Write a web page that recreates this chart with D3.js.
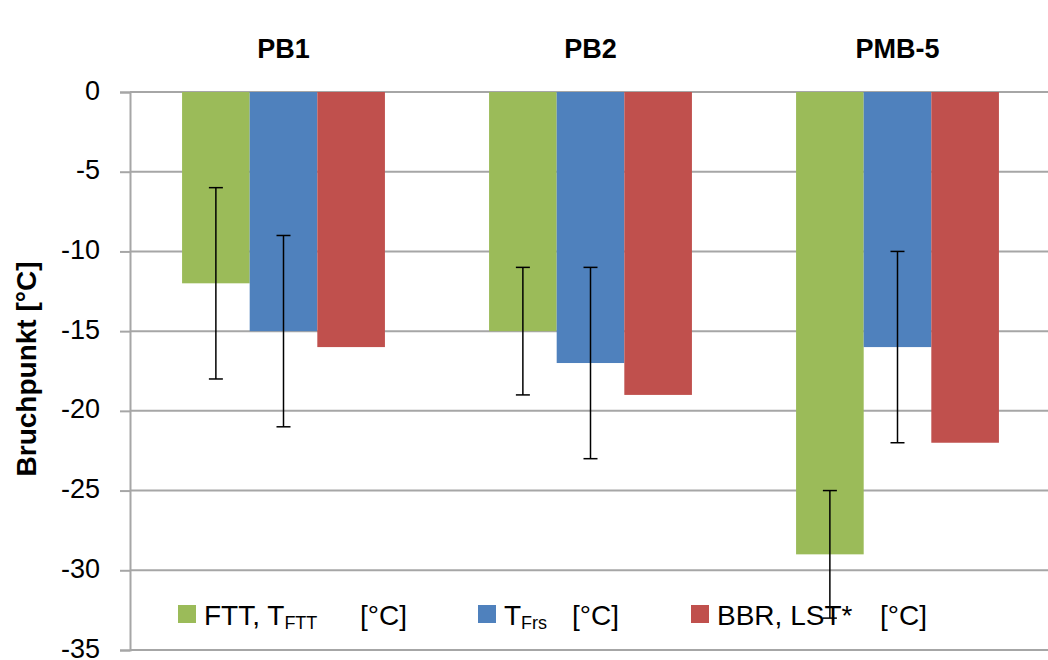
<!DOCTYPE html>
<html>
<head>
<meta charset="utf-8">
<script src="https://cdn.jsdelivr.net/npm/d3@7"></script>
<style>
  body { margin: 0; background: #fff; }
  svg { display: block; font-family: "Liberation Sans", Arial, sans-serif; }
  text { white-space: pre; }
</style>
</head>
<body>
<svg id="chart"></svg>
<script>
// data
const categories = ["PB1", "PB2", "PMB-5"];
const seriesKeys = ["ftt", "frs", "bbr"];
const fttValues = [-12, -15, -29];
const frsValues = [-15, -17, -16];
const bbrValues = [-16, -19, -22];
const fttErrors = [6, 4, 4];
const frsErrors = [6, 6, 6];
const bbrErrors = [null, null, null];
const yTicks = [0, -5, -10, -15, -20, -25, -30, -35];
const legendMain = ["FTT, T", "T", "BBR, LST*"];
const legendSub = ["FTT", "Frs", ""];
const legendUnit = ["[°C]", "[°C]", "[°C]"];
const yTitle = "Bruchpunkt [°C]";

const colors = { ftt: "#9BBB59", frs: "#4F81BD", bbr: "#C0504D" };

const width = 1048;
const height = 660;
const plotLeft = 130;
const plotTop = 92;
const plotBottom = 650;

const svg = d3.select("#chart")
    .attr("width", width)
    .attr("height", height);

// scales
const scX = d3.scaleBand()
    .domain(categories)
    .range([plotLeft, plotLeft + 3 * 307]);

const scInner = d3.scaleBand()
    .domain(seriesKeys)
    .range([0, scX.bandwidth()])
    .paddingOuter(0.77);

const scY = d3.scaleLinear()
    .domain([-35, 0])
    .range([plotBottom, plotTop]);

// grid lines
svg.append("g")
    .selectAll("line")
    .data(yTicks)
    .enter()
    .append("line")
    .attr("x1", plotLeft)
    .attr("x2", width)
    .attr("y1", d => scY(d))
    .attr("y2", d => scY(d))
    .attr("stroke", "#a6a6a6")
    .attr("stroke-width", 2);

// y axis
const axisY = d3.axisLeft(scY)
    .tickValues(yTicks)
    .tickSize(10)
    .tickPadding(20)
    .tickFormat(d => String(d));

const gY = svg.append("g")
    .attr("transform", `translate(${plotLeft}, 0)`)
    .call(axisY);
gY.select(".domain").attr("stroke", "#a6a6a6").attr("stroke-width", 2);
gY.selectAll(".tick line").attr("stroke", "#a6a6a6").attr("stroke-width", 2);
gY.selectAll(".tick text")
    .attr("font-size", 27)
    .attr("font-family", "Liberation Sans, Arial, sans-serif")
    .attr("dy", "0.26em")
    .attr("fill", "#000");

// y title
svg.append("text")
    .attr("transform", `translate(36, 369) rotate(-90)`)
    .attr("text-anchor", "middle")
    .attr("font-size", 28)
    .attr("font-weight", "bold")
    .text(yTitle);

// category labels on top
svg.append("g")
    .selectAll("text")
    .data(categories)
    .enter()
    .append("text")
    .attr("x", d => scX(d) + scX.bandwidth() / 2)
    .attr("y", 58)
    .attr("text-anchor", "middle")
    .attr("font-size", 27)
    .attr("font-weight", "bold")
    .text(d => d);

// build table for bars
const values = { ftt: fttValues, frs: frsValues, bbr: bbrValues };
const errors = { ftt: fttErrors, frs: frsErrors, bbr: bbrErrors };
const rows = [];
categories.forEach((c, i) => {
    seriesKeys.forEach(k => {
        rows.push({ cat: c, key: k, value: values[k][i], err: errors[k][i] });
    });
});

// bars
svg.append("g")
    .selectAll("rect")
    .data(rows)
    .enter()
    .append("rect")
    .attr("x", d => scX(d.cat) + scInner(d.key))
    .attr("y", scY(0))
    .attr("width", scInner.bandwidth())
    .attr("height", d => scY(d.value) - scY(0))
    .attr("fill", d => colors[d.key]);

// legend
const legendX = [178, 478, 691];
const legendUnitX = [182, 94, 189];
const legend = svg.append("g");
seriesKeys.forEach((k, i) => {
    const g = legend.append("g")
        .attr("transform", `translate(${legendX[i]}, 0)`);
    g.append("rect")
        .attr("x", 0)
        .attr("y", 605)
        .attr("width", 18)
        .attr("height", 18)
        .attr("fill", colors[k]);
    const t = g.append("text")
        .attr("x", 26)
        .attr("y", 625)
        .attr("font-size", 28)
        .attr("fill", "#000");
    t.append("tspan").text(legendMain[i]);
    if (legendSub[i]) {
        t.append("tspan")
            .attr("font-size", 18)
            .attr("dy", 4)
            .text(legendSub[i]);
        t.append("tspan")
            .attr("dy", -4)
            .attr("x", legendUnitX[i])
            .text(legendUnit[i]);
    } else {
        t.append("tspan")
            .attr("x", legendUnitX[i])
            .text(legendUnit[i]);
    }
});

// error bars
const withErr = rows.filter(d => d.err != null);
const errG = svg.append("g")
    .attr("stroke", "#000")
    .attr("stroke-width", 1.5);
const cap = 7;
withErr.forEach(d => {
    const cx = scX(d.cat) + scInner(d.key) + scInner.bandwidth() / 2;
    const y1 = scY(d.value + d.err);
    const y2 = scY(d.value - d.err);
    errG.append("line").attr("x1", cx).attr("x2", cx).attr("y1", y1).attr("y2", y2);
    errG.append("line").attr("x1", cx - cap).attr("x2", cx + cap).attr("y1", y1).attr("y2", y1);
    errG.append("line").attr("x1", cx - cap).attr("x2", cx + cap).attr("y1", y2).attr("y2", y2);
});
</script>
</body>
</html>
